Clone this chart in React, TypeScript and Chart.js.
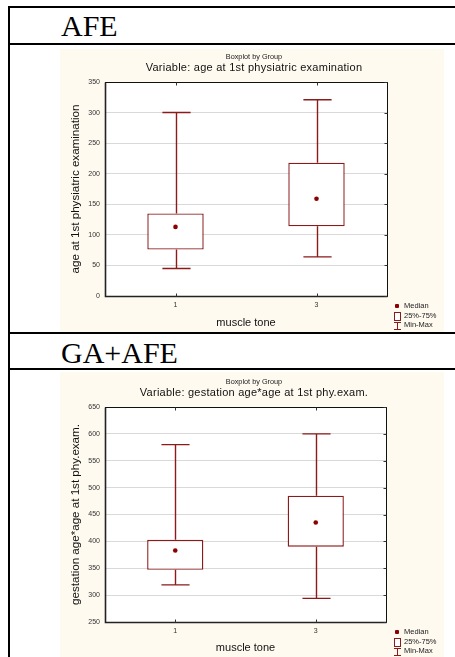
import React, { useEffect, useRef } from 'react';
import { Chart, registerables } from 'chart.js';

Chart.register(...registerables);

// ---------- data ----------
const categories = ['1', '3'];

const afeMin = [45, 64];
const afeQ1 = [76, 114];
const afeMedian = [113, 159];
const afeQ3 = [135, 218];
const afeMax = [300, 321];
const afeTicks = [0, 50, 100, 150, 200, 250, 300, 350];

const gaMin = [319, 294];
const gaQ1 = [347, 390];
const gaMedian = [383, 435];
const gaQ3 = [403, 485];
const gaMax = [580, 600];
const gaTicks = [250, 300, 350, 400, 450, 500, 550, 600, 650];

const legendLabels = ['Median', '25%-75%', 'Min-Max'];

const BOX_COLOR = '#8b1a1a';
const DOT_COLOR = '#8b0000';
const PANEL_BG = '#fffaf0';
const SANS = '"Liberation Sans", Arial, sans-serif';
const SERIF = '"Liberation Serif", "Times New Roman", serif';

const boxPlugin = {
  id: 'boxFrame',
  beforeDraw(chart: any) {
    const { ctx, chartArea: a } = chart;
    ctx.save();
    ctx.fillStyle = '#ffffff';
    ctx.fillRect(a.left, a.top, a.right - a.left, a.bottom - a.top);
    ctx.restore();
  },
  afterDatasetsDraw(chart: any, _args: any, opts: any) {
    const { ctx } = chart;
    const xs = chart.scales.x;
    const ys = chart.scales.y;
    const catW = xs.width / categories.length;
    const capHalf = catW * 0.1;
    categories.forEach((_c, i) => {
      const cx = Math.round(xs.getPixelForValue(i)) + 0.5;
      const pMin = ys.getPixelForValue(opts.min[i]);
      const pQ1 = ys.getPixelForValue(opts.q1[i]);
      const pQ3 = ys.getPixelForValue(opts.q3[i]);
      const pMax = ys.getPixelForValue(opts.max[i]);
      ctx.save();
      ctx.strokeStyle = BOX_COLOR;
      ctx.lineWidth = 1.4;
      ctx.beginPath();
      ctx.moveTo(cx, pMin);
      ctx.lineTo(cx, pQ1);
      ctx.moveTo(cx, pQ3);
      ctx.lineTo(cx, pMax);
      ctx.moveTo(cx - capHalf, pMin);
      ctx.lineTo(cx + capHalf, pMin);
      ctx.moveTo(cx - capHalf, pMax);
      ctx.lineTo(cx + capHalf, pMax);
      ctx.stroke();
      ctx.restore();
    });
  },
  afterDraw(chart: any) {
    const { ctx, chartArea: a } = chart;
    const xs = chart.scales.x;
    const ys = chart.scales.y;
    const L = Math.round(a.left) + 0.5;
    const R = Math.round(a.right) + 0.5;
    const T = Math.round(a.top) + 0.5;
    const B = Math.round(a.bottom) + 0.5;
    ctx.save();
    ctx.strokeStyle = '#111';
    ctx.lineWidth = 1;
    ctx.strokeRect(L, T, R - L, B - T);
    ctx.lineWidth = 1.6;
    ctx.strokeStyle = '#222';
    ctx.beginPath();
    ctx.moveTo(L, T);
    ctx.lineTo(L, B);
    ctx.lineTo(R, B);
    ctx.stroke();
    ctx.lineWidth = 1;
    ctx.strokeStyle = '#333';
    ctx.beginPath();
    categories.forEach((_c, i) => {
      const cx = Math.round(xs.getPixelForValue(i)) + 0.5;
      ctx.moveTo(cx, T);
      ctx.lineTo(cx, T + 3);
      ctx.moveTo(cx, B);
      ctx.lineTo(cx, B - 3);
    });
    ys.ticks.forEach((t: any) => {
      const py = Math.round(ys.getPixelForValue(t.value)) + 0.5;
      ctx.moveTo(R, py);
      ctx.lineTo(R - 3, py);
    });
    ctx.stroke();
    ctx.restore();
  },
};

type BoxProps = {
  width: number;
  height: number;
  padTop: number;
  padRight: number;
  xHeight: number;
  mins: number[];
  q1s: number[];
  medians: number[];
  q3s: number[];
  maxs: number[];
  ticks: number[];
  yTitle: string;
};

function BoxChart(p: BoxProps) {
  const ref = useRef<HTMLCanvasElement | null>(null);
  useEffect(() => {
    if (!ref.current) return;
    const chart = new Chart(ref.current, {
      type: 'bar',
      data: {
        labels: categories,
        datasets: [
          {
            type: 'line',
            label: 'Median',
            data: p.medians,
            showLine: false,
            pointStyle: 'circle',
            pointRadius: 2.3,
            pointBackgroundColor: DOT_COLOR,
            pointBorderColor: DOT_COLOR,
            pointBorderWidth: 0,
            order: 0,
          } as any,
          {
            type: 'bar',
            label: '25%-75%',
            data: categories.map((_c, i) => [p.q1s[i], p.q3s[i]]),
            backgroundColor: '#ffffff',
            borderColor: BOX_COLOR,
            borderWidth: 1.4,
            borderSkipped: false,
            barPercentage: 0.4,
            categoryPercentage: 1,
            order: 1,
          } as any,
        ],
      },
      options: {
        animation: false,
        responsive: false,
        maintainAspectRatio: false,
        layout: { padding: { top: p.padTop, right: p.padRight, left: 5, bottom: 0 } },
        plugins: {
          legend: { display: false },
          tooltip: { enabled: false },
          title: { display: false },
          boxFrame: { min: p.mins, q1: p.q1s, q3: p.q3s, max: p.maxs },
        } as any,
        scales: {
          x: {
            type: 'category',
            offset: true,
            grid: { display: false, drawTicks: false },
            border: { display: false },
            ticks: {
              padding: 5,
              color: '#333',
              font: { family: SANS, size: 7 },
              maxRotation: 0,
            },
            title: {
              display: true,
              text: 'muscle tone',
              color: '#111',
              font: { family: SANS, size: 11 },
              padding: { top: 0, bottom: 2 },
            },
            afterFit: (s: any) => {
              s.height = p.xHeight;
            },
          },
          y: {
            type: 'linear',
            min: p.ticks[0],
            max: p.ticks[p.ticks.length - 1],
            grid: { color: '#d9d9d9', lineWidth: 1, drawTicks: false },
            border: { display: false },
            afterBuildTicks: (s: any) => {
              s.ticks = p.ticks.map((v) => ({ value: v }));
            },
            ticks: {
              padding: 5,
              color: '#333',
              font: { family: SANS, size: 7 },
            },
            title: {
              display: true,
              text: p.yTitle,
              color: '#111',
              font: { family: SANS, size: 11.6 },
              padding: { top: 4, bottom: 0 },
            },
            afterFit: (s: any) => {
              s.width = 40;
            },
          },
        },
      },
      plugins: [boxPlugin],
    });
    return () => chart.destroy();
  }, []);
  return (
    <canvas
      ref={ref}
      width={p.width}
      height={p.height}
      style={{ position: 'absolute', left: 0, top: 0, width: p.width, height: p.height }}
    />
  );
}

function Legend({ top }: { top: number }) {
  const rowH = 9.5;
  return (
    <div style={{ position: 'absolute', left: 393, top, width: 60, height: 30 }}>
      <div style={{ position: 'absolute', left: 2, top: 1.5, width: 4, height: 4, borderRadius: 1, background: DOT_COLOR }} />
      <div
        style={{
          position: 'absolute',
          left: 1,
          top: rowH + 0.5,
          width: 5,
          height: 7,
          border: `1px solid ${BOX_COLOR}`,
          background: '#fff',
        }}
      />
      <div style={{ position: 'absolute', left: 1, top: rowH * 2 + 1, width: 7, height: 1, background: BOX_COLOR }} />
      <div style={{ position: 'absolute', left: 4, top: rowH * 2 + 1, width: 1, height: 8, background: BOX_COLOR }} />
      <div style={{ position: 'absolute', left: 1, top: rowH * 2 + 8, width: 7, height: 1, background: BOX_COLOR }} />
      {legendLabels.map((t, i) => (
        <div
          key={t}
          style={{
            position: 'absolute',
            left: 11,
            top: i * rowH - 1,
            fontFamily: SANS,
            fontSize: 7.5,
            lineHeight: '9px',
            color: '#222',
            whiteSpace: 'nowrap',
          }}
        >
          {t}
        </div>
      ))}
    </div>
  );
}

function Titles({ top, variable }: { top: number; variable: string }) {
  return (
    <>
      <div
        style={{
          position: 'absolute',
          left: 54,
          width: 400,
          top: top,
          textAlign: 'center',
          fontFamily: SANS,
          fontSize: 7.3,
          lineHeight: '9px',
          color: '#222',
          whiteSpace: 'nowrap',
        }}
      >
        Boxplot by Group
      </div>
      <div
        style={{
          position: 'absolute',
          left: 54,
          width: 400,
          top: top + 9,
          textAlign: 'center',
          fontFamily: SANS,
          fontSize: 11,
          letterSpacing: 0.25,
          lineHeight: '13px',
          color: '#111',
          whiteSpace: 'nowrap',
        }}
      >
        {variable}
      </div>
    </>
  );
}

export default function App() {
  return (
    <div
      style={{
        position: 'absolute',
        left: 0,
        top: 0,
        width: 455,
        height: 657,
        background: '#ffffff',
        overflow: 'hidden',
      }}
    >
      <div style={{ position: 'absolute', left: 8, top: 6, width: 447, height: 2, background: '#000' }} />
      <div style={{ position: 'absolute', left: 8, top: 6, width: 2, height: 651, background: '#000' }} />
      <div style={{ position: 'absolute', left: 8, top: 43, width: 447, height: 2, background: '#000' }} />
      <div style={{ position: 'absolute', left: 8, top: 332, width: 447, height: 2, background: '#000' }} />
      <div style={{ position: 'absolute', left: 8, top: 368, width: 447, height: 2, background: '#000' }} />

      <div style={{ position: 'absolute', left: 61, top: 11, fontFamily: SERIF, fontSize: 30, lineHeight: '30px', color: '#000' }}>
        AFE
      </div>
      <div style={{ position: 'absolute', left: 61, top: 338, fontFamily: SERIF, fontSize: 30, lineHeight: '30px', color: '#000' }}>
        GA+AFE
      </div>

      <div style={{ position: 'absolute', left: 60, top: 49, width: 384, height: 283, background: PANEL_BG }}>
        <BoxChart
          width={384}
          height={283}
          padTop={33}
          padRight={57}
          xHeight={36}
          mins={afeMin}
          q1s={afeQ1}
          medians={afeMedian}
          q3s={afeQ3}
          maxs={afeMax}
          ticks={afeTicks}
          yTitle="age at 1st physiatric examination"
        />
      </div>
      <Titles top={52} variable="Variable: age at 1st physiatric examination" />
      <Legend top={302} />

      <div style={{ position: 'absolute', left: 60, top: 372, width: 384, height: 285, background: PANEL_BG }}>
        <BoxChart
          width={384}
          height={285}
          padTop={35}
          padRight={58}
          xHeight={35}
          mins={gaMin}
          q1s={gaQ1}
          medians={gaMedian}
          q3s={gaQ3}
          maxs={gaMax}
          ticks={gaTicks}
          yTitle="gestation age*age at 1st phy.exam."
        />
      </div>
      <Titles top={377} variable="Variable: gestation age*age at 1st phy.exam." />
      <Legend top={628} />
    </div>
  );
}
